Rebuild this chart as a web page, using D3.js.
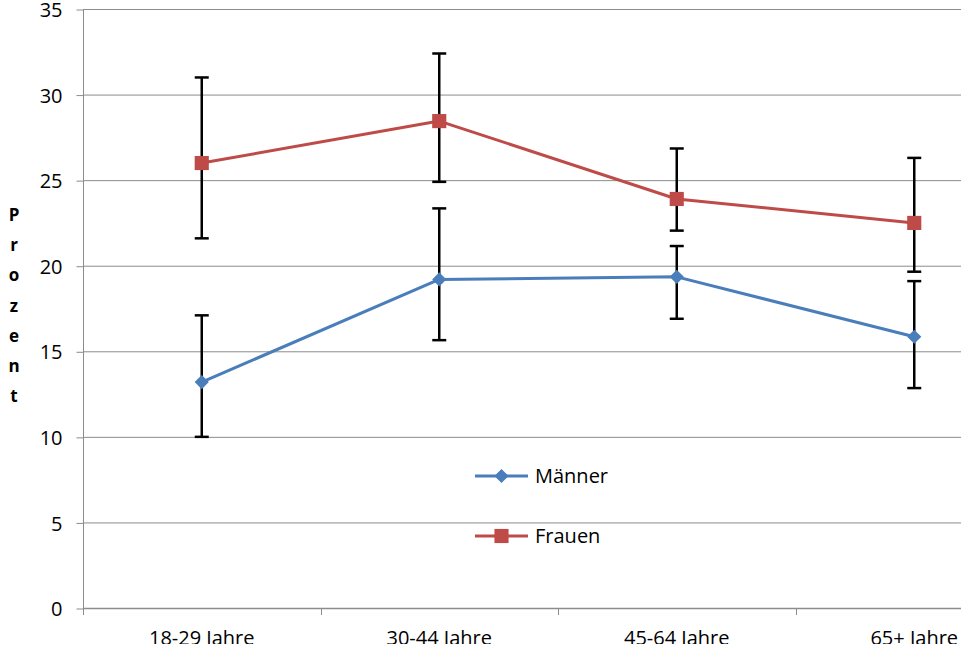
<!DOCTYPE html>
<html>
<head>
<meta charset="utf-8">
<script src="https://cdn.jsdelivr.net/npm/d3@7"></script>
<style>
  body { margin: 0; background: #ffffff; }
  text { font-family: "Open Sans", "Noto Sans", sans-serif; fill: #000000; }
</style>
</head>
<body>
<div id="chart"></div>
<script>
'use strict'

// data
const categories = ['18-29 Jahre', '30-44 Jahre', '45-64 Jahre', '65+ Jahre']
const maenner = [13.2, 19.2, 19.35, 15.85]
const maennerLow = [10.0, 15.65, 16.9, 12.85]
const maennerHigh = [17.1, 23.35, 21.15, 19.1]
const frauen = [26.0, 28.45, 23.9, 22.5]
const frauenLow = [21.6, 24.9, 22.05, 19.65]
const frauenHigh = [31.0, 32.4, 26.85, 26.3]
const yTicks = [0, 5, 10, 15, 20, 25, 30, 35]
const yTitle = 'Prozent'

const blue = '#4a7ebb'
const red = '#be4b48'
const grid = '#8c8c8c'

////////////////////////////////////
//////////// svg setup /////////////
////////////////////////////////////
const svgWidth = 961
const svgHeight = 652

const svg = d3.select('#chart')
    .append('svg')
    .attr('width', svgWidth)
    .attr('height', svgHeight)

// the original picture is cut off just under the x labels
svg.append('clipPath')
    .attr('id', 'cut')
    .append('rect')
    .attr('x', 0)
    .attr('y', 0)
    .attr('width', svgWidth)
    .attr('height', 644)

const g = svg.append('g').attr('clip-path', 'url(#cut)')

////////////////////////////////////
//////////// Scales ////////////////
////////////////////////////////////
const x = d3.scaleBand()
    .domain(categories)
    .range([83, 1033])

const y = d3.scaleLinear()
    .domain([0, 35])
    .range([608, 9])

const cx = d => x(d) + x.bandwidth() / 2

////////////////////////////////////
//////////// Axis //////////////////
////////////////////////////////////
// gridlines
g.append('g')
    .selectAll('line')
    .data(yTicks.filter(d => d > 0))
    .join('line')
    .attr('x1', x.range()[0])
    .attr('x2', x.range()[1])
    .attr('y1', d => y(d) + 0.5)
    .attr('y2', d => y(d) + 0.5)
    .attr('stroke', grid)
    .attr('stroke-width', 1)

const yAxis = d3.axisLeft(y)
    .tickValues(yTicks)
    .tickSize(7)
    .tickPadding(14)

g.append('g')
    .attr('class', 'y-axis')
    .attr('transform', 'translate(83.5,0.5)')
    .call(yAxis)
    .call(s => s.select('.domain').attr('stroke', grid).attr('d', `M0,${y(35)}V${y(0)}`))
    .call(s => s.selectAll('.tick line').attr('stroke', grid))
    .call(s => s.selectAll('.tick text')
        .attr('font-size', '20px')
        .attr('font-family', '"Open Sans", sans-serif')
        .attr('fill', '#000')
        .attr('dy', '0.36em'))

// x axis: ticks sit on the band edges
g.append('line')
    .attr('x1', x.range()[0])
    .attr('x2', x.range()[1])
    .attr('y1', y(0) + 0.5)
    .attr('y2', y(0) + 0.5)
    .attr('stroke', grid)
    .attr('stroke-width', 1.5)

g.append('g')
    .selectAll('line')
    .data(categories.concat(['end']))
    .join('line')
    .attr('x1', (d, i) => Math.round(x.range()[0] + i * x.step()) + 0.5)
    .attr('x2', (d, i) => Math.round(x.range()[0] + i * x.step()) + 0.5)
    .attr('y1', y(0))
    .attr('y2', y(0) + 7)
    .attr('stroke', grid)

g.append('g')
    .selectAll('text')
    .data(categories)
    .join('text')
    .attr('x', d => cx(d))
    .attr('y', 645)
    .attr('text-anchor', 'middle')
    .attr('font-size', '20px')
    .text(d => d)

// vertical y title, one letter per line
g.append('text')
    .attr('x', 14)
    .attr('y', 221)
    .attr('font-size', '17px')
    .attr('font-weight', '700')
    .attr('text-anchor', 'middle')
    .selectAll('tspan')
    .data(yTitle.split(''))
    .join('tspan')
    .attr('x', 14)
    .attr('dy', (d, i) => i === 0 ? 0 : 30.2)
    .text(d => d)

////////////////////////////////////
//////////// series ////////////////
////////////////////////////////////
const series = [
    { name: 'Männer', values: maenner, low: maennerLow, high: maennerHigh, color: blue, rotate: 45, size: 100 },
    { name: 'Frauen', values: frauen, low: frauenLow, high: frauenHigh, color: red, rotate: 0, size: 200 }
]

const line = d3.line()
    .x((d, i) => cx(categories[i]))
    .y(d => y(d))

series.forEach(s => {
    g.append('path')
        .datum(s.values)
        .attr('d', line)
        .attr('fill', 'none')
        .attr('stroke', s.color)
        .attr('stroke-width', 3)
        .attr('stroke-linejoin', 'round')
})

// error bars
series.forEach(s => {
    const eb = g.append('g')
    categories.forEach((c, i) => {
        const xc = cx(c)
        eb.append('line')
            .attr('x1', xc).attr('x2', xc)
            .attr('y1', y(s.high[i])).attr('y2', y(s.low[i]))
            .attr('stroke', '#000').attr('stroke-width', 2.5)
        ;[s.high[i], s.low[i]].forEach(v => {
            eb.append('line')
                .attr('x1', xc - 7).attr('x2', xc + 7)
                .attr('y1', y(v)).attr('y2', y(v))
                .attr('stroke', '#000').attr('stroke-width', 2.5)
        })
    })
})

// markers (square, or square turned 45deg for the diamond)
series.forEach(s => {
    g.append('g')
        .selectAll('path')
        .data(s.values)
        .join('path')
        .attr('transform', (d, i) => `translate(${cx(categories[i])},${y(d)}) rotate(${s.rotate})`)
        .attr('d', d3.symbol().type(d3.symbolSquare).size(s.size))
        .attr('fill', s.color)
})

////////////////////////////////////
//////////// legend ////////////////
////////////////////////////////////
const legend = g.append('g')
    .selectAll('g')
    .data(series)
    .join('g')
    .attr('transform', (d, i) => `translate(475,${476 + i * 60})`)

legend.append('line')
    .attr('x1', 0).attr('x2', 53)
    .attr('y1', 0).attr('y2', 0)
    .attr('stroke', d => d.color)
    .attr('stroke-width', 3)

legend.append('path')
    .attr('transform', d => `translate(26.5,0) rotate(${d.rotate})`)
    .attr('d', d => d3.symbol().type(d3.symbolSquare).size(d.size)())
    .attr('fill', d => d.color)

legend.append('text')
    .attr('x', 60)
    .attr('y', 7)
    .attr('font-size', '20px')
    .text(d => d.name)
</script>
</body>
</html>
